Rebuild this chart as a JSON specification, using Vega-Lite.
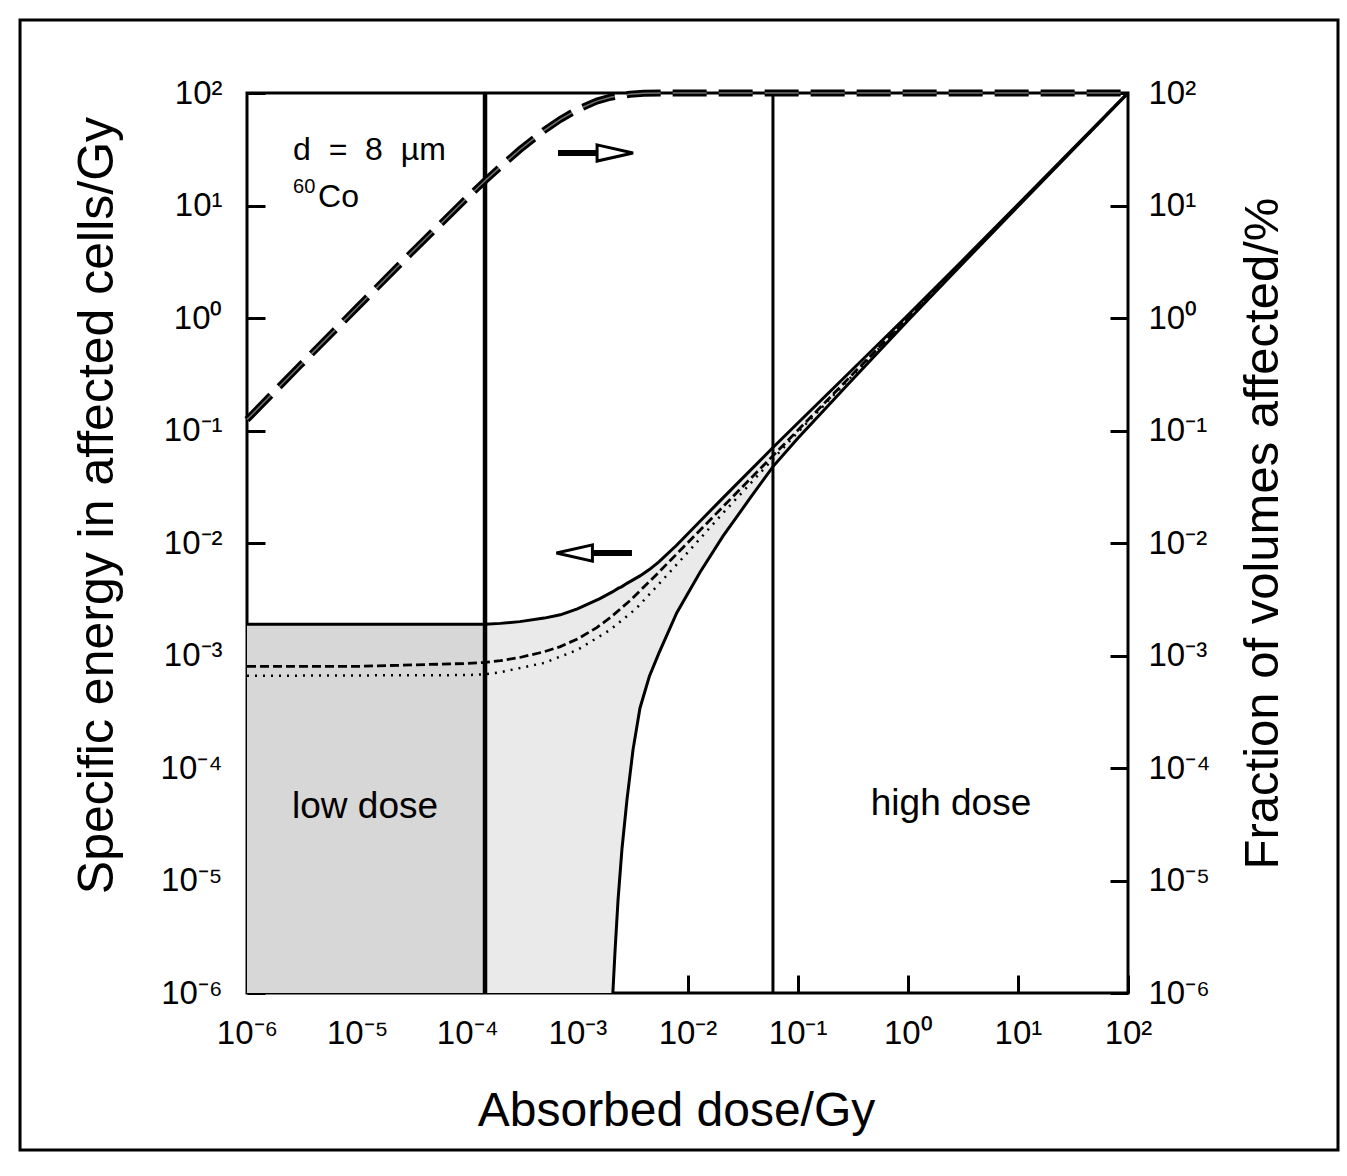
{
  "$schema": "https://vega.github.io/schema/vega-lite/v6.json",
  "width": 881,
  "height": 900,
  "autosize": {"type": "none"},
  "padding": {"left": 247, "top": 93, "right": 219, "bottom": 183},
  "background": "white",
  "config": {
    "font": "Liberation Sans",
    "view": {"stroke": "black", "strokeWidth": 3},
    "axisX": {
      "grid": false, "domain": false, "ticks": true, "tickColor": "black", "tickWidth": 3, "tickSize": -18,
      "labelColor": "black", "labelFontSize": 33, "labelFlush": false, "labelOverlap": false,
      "labelPadding": 68, "labelBaseline": "alphabetic",
      "titleColor": "black", "titleFontSize": 48, "titleFontWeight": "normal",
      "titleX": 429, "titleY": 132, "titleBaseline": "alphabetic", "titleAlign": "center"
    }
  },
  "datasets": {
    "sheet": [{"D1": 8.69e-9, "D2": 8070, "z1": 4.02e-8, "z2": 445.7}],
    "band": [
      {"D": 1e-6, "lo": 1e-6, "hi": 1.9e-3},
      {"D": 1e-5, "lo": 1e-6, "hi": 1.9e-3},
      {"D": 1e-4, "lo": 1e-6, "hi": 1.9e-3},
      {"D": 1.45e-4, "lo": 1e-6, "hi": 1.9e-3},
      {"D": 2e-4, "lo": 1e-6, "hi": 1.93e-3},
      {"D": 3e-4, "lo": 1e-6, "hi": 2.0e-3},
      {"D": 5e-4, "lo": 1e-6, "hi": 2.15e-3},
      {"D": 7e-4, "lo": 1e-6, "hi": 2.3e-3},
      {"D": 1e-3, "lo": 1e-6, "hi": 2.6e-3},
      {"D": 1.6e-3, "lo": 1e-6, "hi": 3.2e-3},
      {"D": 2.1e-3, "lo": 1e-6, "hi": 3.7e-3},
      {"D": 2.2e-3, "lo": 2.4e-6, "hi": 3.8e-3},
      {"D": 2.34e-3, "lo": 6.7e-6, "hi": 3.95e-3},
      {"D": 2.54e-3, "lo": 1.9e-5, "hi": 4.1e-3},
      {"D": 2.82e-3, "lo": 5.2e-5, "hi": 4.38e-3},
      {"D": 3.2e-3, "lo": 1.45e-4, "hi": 4.7e-3},
      {"D": 3.7e-3, "lo": 3.4e-4, "hi": 5.1e-3},
      {"D": 4.5e-3, "lo": 6.5e-4, "hi": 5.8e-3},
      {"D": 5.5e-3, "lo": 1.05e-3, "hi": 6.8e-3},
      {"D": 8e-3, "lo": 2.4e-3, "hi": 9.6e-3},
      {"D": 1.3e-2, "lo": 5.5e-3, "hi": 1.56e-2},
      {"D": 2.1e-2, "lo": 1.15e-2, "hi": 2.52e-2},
      {"D": 3.7e-2, "lo": 2.5e-2, "hi": 4.4e-2},
      {"D": 6e-2, "lo": 4.8e-2, "hi": 7.1e-2},
      {"D": 0.1, "lo": 0.085, "hi": 0.116},
      {"D": 0.3, "lo": 0.27, "hi": 0.333},
      {"D": 1, "lo": 0.944, "hi": 1.058},
      {"D": 3, "lo": 2.9, "hi": 3.1},
      {"D": 10, "lo": 9.82, "hi": 10.18},
      {"D": 100, "lo": 99.4, "hi": 100.6}
    ],
    "energy": [
      {"stat": "mean", "D": 1e-6, "z": 8.0e-4},
      {"stat": "mean", "D": 1e-5, "z": 8.0e-4},
      {"stat": "mean", "D": 1e-4, "z": 8.5e-4},
      {"stat": "mean", "D": 1.45e-4, "z": 8.7e-4},
      {"stat": "mean", "D": 2e-4, "z": 9.0e-4},
      {"stat": "mean", "D": 3e-4, "z": 9.6e-4},
      {"stat": "mean", "D": 5e-4, "z": 1.08e-3},
      {"stat": "mean", "D": 7e-4, "z": 1.2e-3},
      {"stat": "mean", "D": 1e-3, "z": 1.4e-3},
      {"stat": "mean", "D": 1.5e-3, "z": 1.77e-3},
      {"stat": "mean", "D": 2e-3, "z": 2.18e-3},
      {"stat": "mean", "D": 3e-3, "z": 3.07e-3},
      {"stat": "mean", "D": 5e-3, "z": 5.01e-3},
      {"stat": "mean", "D": 1e-2, "z": 1e-2},
      {"stat": "mean", "D": 0.1, "z": 0.1},
      {"stat": "mean", "D": 1, "z": 1},
      {"stat": "mean", "D": 100, "z": 100},
      {"stat": "median", "D": 1e-6, "z": 6.6e-4},
      {"stat": "median", "D": 1e-4, "z": 6.7e-4},
      {"stat": "median", "D": 1.45e-4, "z": 6.8e-4},
      {"stat": "median", "D": 2e-4, "z": 7.1e-4},
      {"stat": "median", "D": 5e-4, "z": 8.6e-4},
      {"stat": "median", "D": 1e-3, "z": 1.12e-3},
      {"stat": "median", "D": 2e-3, "z": 1.7e-3},
      {"stat": "median", "D": 3.4e-3, "z": 2.6e-3},
      {"stat": "median", "D": 5e-3, "z": 3.9e-3},
      {"stat": "median", "D": 1e-2, "z": 8.2e-3},
      {"stat": "median", "D": 2e-2, "z": 1.75e-2},
      {"stat": "median", "D": 6e-2, "z": 5.6e-2},
      {"stat": "median", "D": 0.1, "z": 0.096},
      {"stat": "median", "D": 1, "z": 0.99},
      {"stat": "median", "D": 100, "z": 99.9}
    ],
    "fraction": [
      {"D": 1e-6, "pct": 0.125},
      {"D": 3e-6, "pct": 0.375},
      {"D": 1e-5, "pct": 1.24},
      {"D": 3e-5, "pct": 3.68},
      {"D": 1e-4, "pct": 11.75},
      {"D": 1.45e-4, "pct": 16.6},
      {"D": 2e-4, "pct": 22.1},
      {"D": 3e-4, "pct": 31.3},
      {"D": 5e-4, "pct": 46.5},
      {"D": 7e-4, "pct": 58.3},
      {"D": 1e-3, "pct": 71.3},
      {"D": 1.5e-3, "pct": 84.7},
      {"D": 2e-3, "pct": 91.8},
      {"D": 3e-3, "pct": 97.6},
      {"D": 4e-3, "pct": 99.3},
      {"D": 6e-3, "pct": 99.95},
      {"D": 1e-2, "pct": 100},
      {"D": 0.1, "pct": 100},
      {"D": 1, "pct": 100},
      {"D": 10, "pct": 100},
      {"D": 100, "pct": 100}
    ],
    "limits": [
      {"D": 1.45e-4, "limit": "low"},
      {"D": 5.97e-2, "limit": "high"}
    ],
    "arrows": [
      {"dir": "right", "D1": 6.67e-4, "D2": 1.6e-3, "Dh": 2.2e-3, "z": 29.3},
      {"dir": "left", "D1": 1.3e-3, "D2": 3.13e-3, "Dh": 9.4e-4, "z": 8.15e-3}
    ],
    "notesLeft": [
      {"D": 2.62e-6, "z": 25.4, "label": "d\u00a0\u00a0=\u00a0\u00a08\u00a0\u00a0µm"},
      {"D": 4.42e-6, "z": 9.7, "label": "Co"}
    ],
    "notesSup": [
      {"D": 2.62e-6, "z": 12.9, "label": "60"}
    ],
    "notesCenter": [
      {"D": 1.18e-5, "z": 3.6e-5, "label": "low dose"},
      {"D": 2.47, "z": 3.8e-5, "label": "high dose"}
    ]
  },
  "layer": [
    {
      "data": {"name": "band"},
      "transform": [{"filter": "datum.D <= 1.45e-4"}],
      "mark": {"type": "area", "color": "#d7d7d7"},
      "encoding": {
        "x": {"field": "D", "type": "quantitative", "scale": {"type": "log", "domain": [1e-6, 100], "nice": false},
          "axis": {"values": [1e-6, 1e-5, 1e-4, 1e-3, 1e-2, 1e-1, 1, 10, 100],
            "labelExpr": "datum.value < 5e-6 ? '10⁻⁶' : datum.value < 5e-5 ? '10⁻⁵' : datum.value < 5e-4 ? '10⁻⁴' : datum.value < 5e-3 ? '10⁻³' : datum.value < 5e-2 ? '10⁻²' : datum.value < 0.5 ? '10⁻¹' : datum.value < 5 ? '10⁰' : datum.value < 50 ? '10¹' : '10²'",
            "title": "Absorbed dose/Gy"}},
        "y": {"field": "hi", "type": "quantitative", "scale": {"type": "log", "domain": [1e-6, 100], "nice": false},
          "axis": {"orient": "left", "values": [1e-6, 1e-5, 1e-4, 1e-3, 1e-2, 1e-1, 1, 10, 100],
            "labelExpr": "datum.value < 5e-6 ? '10⁻⁶' : datum.value < 5e-5 ? '10⁻⁵' : datum.value < 5e-4 ? '10⁻⁴' : datum.value < 5e-3 ? '10⁻³' : datum.value < 5e-2 ? '10⁻²' : datum.value < 0.5 ? '10⁻¹' : datum.value < 5 ? '10⁰' : datum.value < 50 ? '10¹' : '10²'",
            "grid": false, "domain": false, "ticks": true, "tickColor": "black", "tickWidth": 3, "tickSize": -18,
            "labelColor": "black", "labelFontSize": 33, "labelFlush": false, "labelOverlap": false,
            "labelPadding": 43,
            "title": "Specific energy in affected cells/Gy", "titleColor": "black", "titleFontSize": 50, "titleFontWeight": "normal",
            "titleX": -135, "titleY": 412, "titleAngle": -90, "titleBaseline": "alphabetic", "titleAlign": "center"}},
        "y2": {"field": "lo"}
      }
    },
    {
      "data": {"name": "sheet"},
      "mark": {"type": "rect", "fill": "transparent", "stroke": "black", "strokeWidth": 3, "clip": false},
      "encoding": {
        "x": {"field": "D1", "type": "quantitative", "scale": {"type": "log", "domain": [1e-6, 100], "nice": false}},
        "x2": {"field": "D2"},
        "y": {"field": "z1", "type": "quantitative", "scale": {"type": "log", "domain": [1e-6, 100], "nice": false}, "axis": null},
        "y2": {"field": "z2"}
      }
    },
    {
      "data": {"name": "band"},
      "transform": [{"filter": "datum.D >= 1.45e-4"}],
      "mark": {"type": "area", "color": "#eaeaea"},
      "encoding": {
        "x": {"field": "D", "type": "quantitative", "scale": {"type": "log", "domain": [1e-6, 100], "nice": false}},
        "y": {"field": "hi", "type": "quantitative", "scale": {"type": "log", "domain": [1e-6, 100], "nice": false}, "axis": null},
        "y2": {"field": "lo"}
      }
    },
    {
      "data": {"name": "limits"},
      "transform": [{"filter": "datum.limit == 'low'"}],
      "mark": {"type": "rule", "color": "black", "strokeWidth": 4.5},
      "encoding": {
        "x": {"field": "D", "type": "quantitative", "scale": {"type": "log", "domain": [1e-6, 100], "nice": false}}
      }
    },
    {
      "data": {"name": "limits"},
      "transform": [{"filter": "datum.limit == 'high'"}],
      "mark": {"type": "rule", "color": "black", "strokeWidth": 3},
      "encoding": {
        "x": {"field": "D", "type": "quantitative", "scale": {"type": "log", "domain": [1e-6, 100], "nice": false}}
      }
    },
    {
      "data": {"name": "band"},
      "mark": {"type": "line", "color": "black", "strokeWidth": 3},
      "encoding": {
        "x": {"field": "D", "type": "quantitative", "scale": {"type": "log", "domain": [1e-6, 100], "nice": false}},
        "y": {"field": "hi", "type": "quantitative", "scale": {"type": "log", "domain": [1e-6, 100], "nice": false}, "axis": null}
      }
    },
    {
      "data": {"name": "band"},
      "transform": [{"filter": "datum.D >= 2.1e-3"}],
      "mark": {"type": "line", "color": "black", "strokeWidth": 3},
      "encoding": {
        "x": {"field": "D", "type": "quantitative", "scale": {"type": "log", "domain": [1e-6, 100], "nice": false}},
        "y": {"field": "lo", "type": "quantitative", "scale": {"type": "log", "domain": [1e-6, 100], "nice": false}, "axis": null}
      }
    },
    {
      "data": {"name": "energy"},
      "transform": [{"filter": "datum.stat == 'mean'"}],
      "mark": {"type": "line", "color": "black", "strokeWidth": 2.8, "strokeDash": [9, 4]},
      "encoding": {
        "x": {"field": "D", "type": "quantitative", "scale": {"type": "log", "domain": [1e-6, 100], "nice": false}},
        "y": {"field": "z", "type": "quantitative", "scale": {"type": "log", "domain": [1e-6, 100], "nice": false}, "axis": null}
      }
    },
    {
      "data": {"name": "energy"},
      "transform": [{"filter": "datum.stat == 'median'"}],
      "mark": {"type": "line", "color": "black", "strokeWidth": 2.5, "strokeDash": [2, 6]},
      "encoding": {
        "x": {"field": "D", "type": "quantitative", "scale": {"type": "log", "domain": [1e-6, 100], "nice": false}},
        "y": {"field": "z", "type": "quantitative", "scale": {"type": "log", "domain": [1e-6, 100], "nice": false}, "axis": null}
      }
    },
    {
      "data": {"name": "arrows"},
      "mark": {"type": "rule", "color": "black", "strokeWidth": 6},
      "encoding": {
        "x": {"field": "D1", "type": "quantitative", "scale": {"type": "log", "domain": [1e-6, 100], "nice": false}},
        "x2": {"field": "D2"},
        "y": {"field": "z", "type": "quantitative", "scale": {"type": "log", "domain": [1e-6, 100], "nice": false}, "axis": null}
      }
    },
    {
      "data": {"name": "arrows"},
      "mark": {"type": "point", "filled": true, "fill": "white", "stroke": "black", "strokeWidth": 3, "size": 1296, "opacity": 1},
      "encoding": {
        "x": {"field": "Dh", "type": "quantitative", "scale": {"type": "log", "domain": [1e-6, 100], "nice": false}},
        "y": {"field": "z", "type": "quantitative", "scale": {"type": "log", "domain": [1e-6, 100], "nice": false}, "axis": null},
        "shape": {"field": "dir", "type": "nominal", "legend": null,
          "scale": {"domain": ["left", "right"], "range": ["M1,-0.45L-1,0L1,0.45Z", "M-1,-0.45L1,0L-1,0.45Z"]}}
      }
    },
    {
      "data": {"name": "notesLeft"},
      "mark": {"type": "text", "align": "left", "baseline": "alphabetic", "fontSize": 32, "color": "black"},
      "encoding": {
        "x": {"field": "D", "type": "quantitative", "scale": {"type": "log", "domain": [1e-6, 100], "nice": false}},
        "y": {"field": "z", "type": "quantitative", "scale": {"type": "log", "domain": [1e-6, 100], "nice": false}, "axis": null},
        "text": {"field": "label"}
      }
    },
    {
      "data": {"name": "notesSup"},
      "mark": {"type": "text", "align": "left", "baseline": "alphabetic", "fontSize": 20, "color": "black"},
      "encoding": {
        "x": {"field": "D", "type": "quantitative", "scale": {"type": "log", "domain": [1e-6, 100], "nice": false}},
        "y": {"field": "z", "type": "quantitative", "scale": {"type": "log", "domain": [1e-6, 100], "nice": false}, "axis": null},
        "text": {"field": "label"}
      }
    },
    {
      "data": {"name": "notesCenter"},
      "mark": {"type": "text", "align": "center", "baseline": "alphabetic", "fontSize": 37, "color": "black"},
      "encoding": {
        "x": {"field": "D", "type": "quantitative", "scale": {"type": "log", "domain": [1e-6, 100], "nice": false}},
        "y": {"field": "z", "type": "quantitative", "scale": {"type": "log", "domain": [1e-6, 100], "nice": false}, "axis": null},
        "text": {"field": "label"}
      }
    },
    {
      "data": {"name": "fraction"},
      "mark": {"type": "line", "color": "black", "strokeWidth": 7, "strokeDash": [34, 12]},
      "encoding": {
        "x": {"field": "D", "type": "quantitative", "scale": {"type": "log", "domain": [1e-6, 100], "nice": false}},
        "y": {"field": "pct", "type": "quantitative", "scale": {"type": "log", "domain": [1e-6, 100], "nice": false},
          "axis": {"orient": "right", "values": [1e-6, 1e-5, 1e-4, 1e-3, 1e-2, 1e-1, 1, 10, 100],
            "labelExpr": "datum.value < 5e-6 ? '10⁻⁶' : datum.value < 5e-5 ? '10⁻⁵' : datum.value < 5e-4 ? '10⁻⁴' : datum.value < 5e-3 ? '10⁻³' : datum.value < 5e-2 ? '10⁻²' : datum.value < 0.5 ? '10⁻¹' : datum.value < 5 ? '10⁰' : datum.value < 50 ? '10¹' : '10²'",
            "grid": false, "domain": false, "ticks": true, "tickColor": "black", "tickWidth": 3, "tickSize": -18,
            "labelColor": "black", "labelFontSize": 33, "labelFlush": false, "labelOverlap": false,
            "labelPadding": 38,
            "title": "Fraction of volumes affected/%", "titleColor": "black", "titleFontSize": 49, "titleFontWeight": "normal",
            "titleX": 149, "titleY": 440, "titleAngle": -90, "titleBaseline": "alphabetic", "titleAlign": "center"}}
      }
    },
    {
      "data": {"name": "fraction"},
      "mark": {"type": "line", "color": "#707070", "strokeWidth": 1.5, "strokeDash": [34, 12]},
      "encoding": {
        "x": {"field": "D", "type": "quantitative", "scale": {"type": "log", "domain": [1e-6, 100], "nice": false}},
        "y": {"field": "pct", "type": "quantitative", "scale": {"type": "log", "domain": [1e-6, 100], "nice": false}, "axis": null}
      }
    }
  ],
  "resolve": {"scale": {"y": "independent"}, "axis": {"y": "independent"}}
}
